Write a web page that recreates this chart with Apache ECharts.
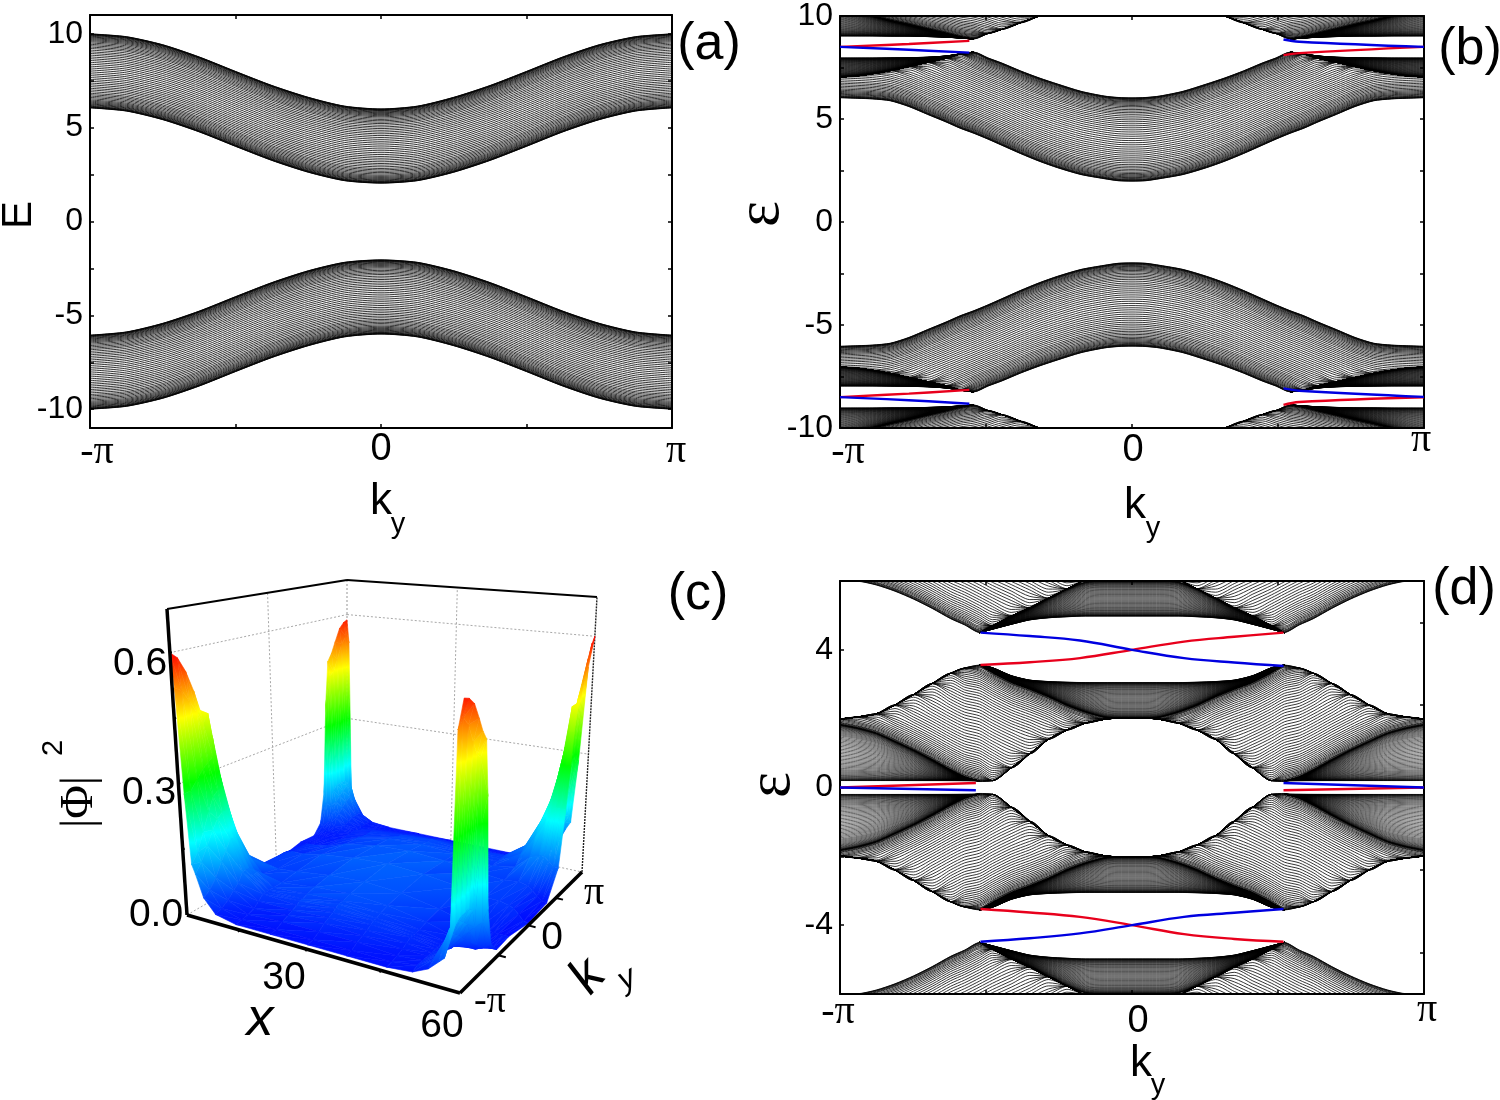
<!DOCTYPE html>
<html><head><meta charset="utf-8"><style>html,body{margin:0;background:#fff}#c{width:1500px;height:1100px}</style>
<script src="https://cdn.jsdelivr.net/npm/echarts@6/dist/echarts.min.js"></script></head>
<body><div id="c"></div><script>
const PI=Math.PI;
// Fractional positions of the hatch lines inside a band (estimated from line spacing in the picture).
// The individual lines are NOT read one by one: each is placed between band edges.
const lineLevels=[.001,.003,.006,.011,.017,.023,.033,.043,.053,.065,.078,.092,.107,.124,.142,.160,.179,.198,.220,.243,.265,.288,.312,.336,.360,.385,.410,.436,.461,.487,.513,.539,.564,.590,.615,.640,.664,.688,.712,.735,.757,.780,.802,.821,.840,.858,.876,.893,.908,.922,.935,.947,.957,.967,.977,.983,.989,.994,.997,.999];

// Panel (a): band edges, half range ky=-pi..0
const kyA=[-3.1416,-2.75,-2.356,-1.963,-1.571,-1.178,-.785,-.393,0];
const aHi=[10,9.85,9.42,8.77,8,7.25,6.62,6.15,6];
const aLo=[6.05,5.88,5.42,4.77,4,3.25,2.62,2.17,2.04];

// Panel (b): band edges, half range
const kyB=[-3.1416,-2.95,-2.79,-2.6,-2.4,-2.2,-2,-1.85,-1.7,-1.55,-1.4,-1.2,-1,-.8,-.55,-.3,-.15,0];
const bMainLo=[6.03,6,5.97,5.88,5.6,5.22,4.85,4.55,4.3,4.02,3.72,3.32,2.95,2.63,2.3,2.1,2,1.98];
const bMainHi=[10,9.95,9.88,9.72,9.47,9.15,8.8,8.55,8.25,7.97,7.72,7.34,7,6.7,6.35,6.12,6.05,6.03];
const bMainCeil=[7.04,7.1,7.2,7.35,7.55,7.75,7.95,8.15,8.25,7.97,7.72,7.34,7,6.7,6.35,6.12,6.05,6.03];
const bDenseHi=[7.96,7.96,7.96,7.97,7.98,8,8.06,8.16,8.25];
const bWedgeLo=[9.03,9.03,9.03,9.02,9.02,9,8.97,8.93,8.88];
const bWedgeHi=[10.35,10.2,10,9.78,9.58,9.36,9.15,8.98,8.88];
const bTopFloor=[10.35,10.2,10,9.78,9.58,9.36,9.15,8.98,8.88,9.15,9.35,9.67,10,10.4,10.9,11.3,11.5,11.6];
const bTopLo=[10.35,10.2,10,9.78,9.58,9.36,9.15,8.98,8.88,8.7,8.5,8.3,8.1,7.95,7.75,7.6,7.55,7.5];
const bTopHi=[14.35,14.2,14,13.78,13.58,13.36,13.15,12.98,12.88,12.7,12.5,12.3,12.1,11.95,11.75,11.6,11.55,11.5];
const bEdgeLeftKy=[-3.1416,-2.4,-1.75], bEdgeRightKy=[1.63,1.8,3.1416];
const bRedUpLeft=[8.5,8.64,8.79], bBlueUpLeft=[8.5,8.36,8.22];
const bBlueUpRight=[8.86,8.75,8.5], bRedUpRight=[8.1,8.2,8.5];
const bRedDownLeft=[-8.5,-8.33,-8.15], bBlueDownLeft=[-8.5,-8.65,-8.82];
const bBlueDownRight=[-8.08,-8.19,-8.49], bRedDownRight=[-8.88,-8.74,-8.51];

// Panel (d): band edges, half range
const kyD=[-3.1416,-2.95,-2.75,-2.55,-2.35,-2.15,-1.95,-1.8,-1.64,-1.5,-1.3,-1.1,-.9,-.7,-.5,-.3,-.15,0];
const dTopFloor=[6,5.99,5.88,5.7,5.47,5.2,4.9,4.72,4.5,4.7,4.98,5.22,5.5,5.77,6.05,6.4,6.6,6.7];
const dTopLo=[6,5.99,5.88,5.7,5.47,5.2,4.9,4.72,4.5,4.3,4.05,3.8,3.55,3.3,3.1,2.95,2.85,2.8];
const dTopHi=[9.6,9.59,9.48,9.3,9.07,8.8,8.5,8.32,8.1,7.9,7.65,7.4,7.15,6.9,6.7,6.55,6.45,6.4];
const dTopDenseLo=[4.5,4.6,4.74,4.87,4.93,4.96,4.98,4.98,4.98,4.98];
const dTopDenseHi=[4.5,4.7,4.98,5.22,5.5,5.77,5.97,6,6,6];
const dMidLo=[1.82,1.72,1.57,1.33,1.08,.8,.5,.3,.17,-.05,-.3,-.52,-.72,-.92,-1.1,-1.25,-1.28,-1.3];
const dMidHi=[5.17,5.07,4.92,4.68,4.43,4.15,3.85,3.65,3.56,3.35,3.07,2.87,2.65,2.4,2.2,2.05,2.02,2.02];
const dMidCeil=[1.99,2.05,2.14,2.4,2.7,3.02,3.32,3.47,3.56,3.35,3.07,2.87,2.65,2.4,2.2,2.05,2.02,2.02];
const dMidFloor=[1.82,1.72,1.57,1.33,1.08,.8,.5,.3,.17,.2,.57,.98,1.4,1.67,1.87,1.98,2.02,2.02];
const dLowDenseLo=[.2,.2,.2,.2,.2,.2,.2,.2,.2];
const dLowDenseHi=[1.82,1.72,1.57,1.33,1.08,.8,.5,.3,.19];
const dCrossLo=[3.56,3.35,3.07,2.87,2.65,2.4,2.2,2.05,2.02,2.02];
const dCrossHi=[3.56,3.48,3.25,3.12,3.08,3.06,3.05,3.05,3.05,3.05];
const dEdgeKy=[-1.63,-1.1,-.56,0,.56,1.1,1.63];
const dRedUp=[3.56,3.64,3.76,4,4.24,4.38,4.5], dBlueUp=[4.5,4.4,4.27,4,3.76,3.63,3.53];
const dRedDown=[-3.53,-3.63,-3.76,-4,-4.26,-4.4,-4.48], dBlueDown=[-4.48,-4.38,-4.24,-4,-3.76,-3.64,-3.53];
const dZeroLeftKy=[-3.1416,-1.68], dZeroRightKy=[1.63,3.1416];
const dRedZeroLeft=[0,.13], dBlueZeroLeft=[0,-.08], dRedZeroRight=[-.08,0], dBlueZeroRight=[.13,0];

// Panel (c): |Phi|^2 table, estimated from the surface silhouette. Rows: ky/pi. Columns: x.
const surfX=[0,1,2,3,4,6,9,14,22,30,38,46,51,54,56,57,58,59,60];
const surfKy=[-1,-.957,-.90,-.84,-.79,-.74,-.706,-.67,-.616,-.522,-.33,0];
const surfRows=[
[.60,.52,.28,.12,.10,.05,.02,.01,.01,.01,.01,.01,.015,.03,.05,.06,.10,.52,.585],
[.585,.51,.28,.14,.12,.06,.025,.012,.012,.012,.012,.012,.02,.04,.08,.11,.12,.54,.58],
[.55,.48,.30,.18,.15,.08,.035,.015,.02,.02,.02,.015,.02,.04,.09,.12,.13,.52,.565],
[.50,.45,.32,.22,.18,.11,.05,.02,.025,.03,.025,.02,.02,.04,.08,.11,.13,.48,.53],
[.45,.42,.33,.25,.20,.13,.06,.03,.03,.035,.03,.025,.02,.035,.07,.10,.13,.45,.50],
[.43,.44,.34,.26,.21,.15,.08,.04,.035,.04,.035,.03,.02,.03,.06,.09,.12,.44,.48],
[.38,.38,.32,.26,.21,.15,.08,.04,.04,.045,.04,.03,.02,.03,.05,.07,.08,.30,.36],
[.30,.30,.28,.24,.20,.14,.08,.04,.04,.05,.04,.03,.02,.025,.03,.04,.04,.09,.12],
[.20,.20,.20,.19,.16,.12,.07,.04,.045,.05,.045,.03,.02,.02,.02,.02,.025,.03,.04],
[.07,.07,.08,.09,.09,.08,.05,.04,.05,.055,.05,.035,.02,.018,.015,.015,.015,.015,.015],
[.01,.012,.02,.03,.04,.045,.04,.045,.055,.06,.055,.04,.025,.02,.018,.018,.018,.018,.018],
[.005,.008,.02,.03,.035,.04,.04,.05,.06,.065,.06,.05,.04,.04,.035,.03,.02,.008,.005]];
const colorAnchors=[[0,[0,0,255]],[.17,[0,255,255]],[.30,[0,255,0]],[.45,[255,255,0]],[.60,[255,0,0]]];

// Tick labels
const kyTicks=[-PI,0,PI], kyTickText=['-π','0','π'];
const kyMinor=[-PI,-PI/2,0,PI/2,PI];
const aLabels=[10,5,0,-5,-10], aTicks=[10,7.5,5,2.5,0,-2.5,-5,-7.5,-10];
const bLabels=[10,5,0,-5,-10], bTicks=[10,7.5,5,2.5,0,-2.5,-5,-7.5,-10];
const dLabels=[4,0,-4], dTicks=[4,2,0,-2,-4], dRightTicks=[2,1,0,-1,-2];

const mir=a=>a.concat(a.slice(0,-1).reverse());
const mirK=a=>a.concat(a.slice(0,-1).reverse().map(v=>-v));
const neg=a=>a&&a.map(v=>-v);

const NUM='"Liberation Sans",Arial,sans-serif', SYM='"Liberation Serif",serif';
const series=[], xAxes=[], yAxes=[], grids=[];

function panel(i,box,ymin,ymax,labels,ticks,xOff,rightCfg){
  grids.push({left:box[0],top:box[1],width:box[2],height:box[3],show:false});
  const axLine={lineStyle:{color:'#000',width:2}};
  const rich={};
  xOff.slice(0,3).forEach((o,j)=>{rich['l'+j]={fontFamily:j==1?NUM:SYM,fontSize:j==1?38:40,color:'#000',
    padding:[o[1],o[0]<0?-2*o[0]:0,0,o[0]>0?2*o[0]:0]};});
  xAxes.push({gridIndex:i,type:'value',min:-PI,max:PI,position:'bottom',axisLine:{onZero:false,...axLine},splitLine:{show:false},
    axisTick:{inside:true,length:4,customValues:kyMinor,lineStyle:{color:'#000',width:1.5}},
    axisLabel:{customValues:kyTicks,margin:xOff[3],formatter:v=>{const j=kyTicks.findIndex(t=>Math.abs(t-v)<1e-6);return `{l${j}|${kyTickText[j]}}`;},rich}});
  xAxes.push({gridIndex:i,type:'value',min:-PI,max:PI,position:'top',axisLine:{onZero:false,...axLine},splitLine:{show:false},
    axisTick:{inside:true,length:4,customValues:kyMinor,lineStyle:{color:'#000',width:1.5}},axisLabel:{show:false}});
  yAxes.push({gridIndex:i,type:'value',min:ymin,max:ymax,position:'left',axisLine:{onZero:false,...axLine},splitLine:{show:false},
    axisTick:{inside:true,length:4,customValues:ticks,lineStyle:{color:'#000',width:1.5}},
    axisLabel:{customValues:labels,margin:7,fontFamily:NUM,fontSize:32,color:'#000'}});
  yAxes.push({gridIndex:i,type:'value',min:rightCfg[0],max:rightCfg[1],position:'right',axisLine:{onZero:false,...axLine},splitLine:{show:false},
    axisTick:{inside:true,length:4,customValues:rightCfg[2],lineStyle:{color:'#000',width:1.5}},axisLabel:{show:false}});
}
// One sheet of lines between two read edges, optionally held inside floor/ceil edges
function sheet(p,ky,lo,hi,opt={}){
  const d=[];
  lineLevels.forEach(f=>{
    ky.forEach((k,i)=>{
      let y=lo[i]+(hi[i]-lo[i])*f;
      if(opt.ceil) y=Math.min(y,opt.ceil[i]);
      if(opt.floor) y=Math.max(y,opt.floor[i]);
      d.push([k,y]);
    });
    d.push([NaN,NaN]);
  });
  series.push({type:'line',xAxisIndex:p*2,yAxisIndex:p*2,data:d,showSymbol:false,symbol:'none',silent:true,smooth:opt.smooth===undefined?.25:opt.smooth,
    animation:false,connectNulls:false,lineStyle:{color:'#000',width:opt.w||.8},z:2});
}
function edge(p,ky,ys,color){
  series.push({type:'line',xAxisIndex:p*2,yAxisIndex:p*2,data:ky.map((k,i)=>[k,ys[i]]),showSymbol:false,symbol:'none',silent:true,smooth:.4,animation:false,
    lineStyle:{color,width:2.4},z:3});
}
const RED='#e8001c', BLUE='#0000e0';

panel(0,[90,15,582,413],-11,11,aLabels,aTicks,[[7,1],[0,0],[4,0],3],[-11,11,aTicks]);
panel(1,[840,15,584,413],-10,10,bLabels,bTicks,[[8,12],[1,12],[-3,0],-8],[-10,10,bTicks]);
panel(2,[840,581,584,413],-6,6,dLabels,dTicks,[[-2,2],[6,13],[3,0],-4],[-2.5,2.5,dRightTicks]);

// (a)
const ka=mirK(kyA);
[1,-1].forEach(s=>{const m=a=>s>0?mir(a):neg(mir(a));
  sheet(0,ka,m(aLo),m(aHi));});

// (b)
const kb=mirK(kyB), kbL=kyB.slice(0,9), kbR=kbL.map(v=>-v);
[1,-1].forEach(s=>{
  const m=a=>s>0?mir(a):neg(mir(a)), one=a=>s>0?a:neg(a);
  const mainCeil=m(bMainCeil);
  sheet(1,kb,m(bMainLo),m(bMainHi),s>0?{ceil:mainCeil}:{floor:mainCeil});
  [kbL,kbR].forEach(k=>{
    sheet(1,k,one(bMainCeil.slice(0,9)),one(bDenseHi),{w:.6});
    sheet(1,k,one(bWedgeLo),one(bWedgeHi),{w:.6});
  });
  const f=m(bTopFloor);
  sheet(1,kb,m(bTopLo),m(bTopHi),s>0?{floor:f}:{ceil:f});
});
edge(1,bEdgeLeftKy,bRedUpLeft,RED);edge(1,bEdgeLeftKy,bBlueUpLeft,BLUE);
edge(1,bEdgeRightKy,bRedUpRight,RED);edge(1,bEdgeRightKy,bBlueUpRight,BLUE);
edge(1,bEdgeLeftKy,bRedDownLeft,RED);edge(1,bEdgeLeftKy,bBlueDownLeft,BLUE);
edge(1,bEdgeRightKy,bRedDownRight,RED);edge(1,bEdgeRightKy,bBlueDownRight,BLUE);

// (d)
const kd=mirK(kyD), kdL=kyD.slice(0,9), kdR=kdL.map(v=>-v), kdC=mirK(kyD.slice(8));
[1,-1].forEach(s=>{
  const m=a=>s>0?mir(a):neg(mir(a)), one=a=>s>0?a:neg(a);
  const hold=(fl,ce)=>s>0?{floor:fl,ceil:ce}:{floor:ce,ceil:fl};
  const tf=m(dTopFloor);
  sheet(2,kd,m(dTopLo),m(dTopHi),s>0?{floor:tf}:{ceil:tf});
  sheet(2,kdC,m(dTopDenseLo),m(dTopDenseHi),{w:.6});
  sheet(2,kd,m(dMidLo),m(dMidHi),hold(m(dMidFloor),m(dMidCeil)));
  [kdL,kdR].forEach(k=>sheet(2,k,one(dLowDenseLo),one(dLowDenseHi),{w:.6}));
  sheet(2,kdC,m(dCrossLo),m(dCrossHi),{w:.6});
});
edge(2,dEdgeKy,dRedUp,RED);edge(2,dEdgeKy,dBlueUp,BLUE);
edge(2,dEdgeKy,dRedDown,RED);edge(2,dEdgeKy,dBlueDown,BLUE);
edge(2,dZeroLeftKy,dRedZeroLeft,RED);edge(2,dZeroLeftKy,dBlueZeroLeft,BLUE);
edge(2,dZeroRightKy,dRedZeroRight,RED);edge(2,dZeroRightKy,dBlueZeroRight,BLUE);

// (c): oblique perspective frame for the 3D box (x 0..60, ky -pi..pi, z 0..0.7)
grids.push({left:0,top:0,width:1500,height:1100,show:false});
xAxes.push({gridIndex:3,type:'value',min:0,max:1500,show:false});
yAxes.push({gridIndex:3,type:'value',min:0,max:1100,inverse:true,show:false});
const G3=xAxes.length-1, GY3=yAxes.length-1;
const floorFrame={A:[187,915],B:[460,993],C:[582,872],D:[347,822]};
const topFrame={A:[167,609],B:[465,640],C:[597,597],D:[347,580]};
const ZMAX=.7;
function proj(x,ky,z){
  const u0=x/60,t0=(ky+1)/2;
  const u=u0<0?u0:Math.pow(u0,1.18), t=t0<0?t0:Math.pow(t0,.84), w=z/ZMAX;
  const bi=c=>[0,1].map(n=>c.A[n]*(1-u)*(1-t)+c.B[n]*u*(1-t)+c.C[n]*u*t+c.D[n]*(1-u)*t);
  const a=bi(floorFrame),b=bi(topFrame);
  return [a[0]+(b[0]-a[0])*w,a[1]+(b[1]-a[1])*w];
}
function seg(pts,color,width,type,z){
  series.push({type:'line',xAxisIndex:G3,yAxisIndex:GY3,data:pts.map(p=>proj(p[0],p[1],p[2])),showSymbol:false,symbol:'none',silent:true,animation:false,
    lineStyle:{color,width,type:type||'solid'},z:z||1});
}
const GR='#a8a8a8';
[[.3],[.6]].forEach(([z])=>{seg([[0,-1,z],[0,1,z]],GR,1,[2,2]);seg([[0,1,z],[60,1,z]],GR,1,[2,2]);});
seg([[0,0,0],[0,0,ZMAX]],GR,1,[2,2]);seg([[30,1,0],[30,1,ZMAX]],GR,1,[2,2]);
seg([[0,1,0],[0,1,ZMAX]],GR,1.2,[2,2]);
seg([[0,-1,0],[0,1,0]],GR,1,[2,2]);seg([[0,1,0],[60,1,0]],GR,1,[2,2]);
seg([[0,-1,ZMAX],[0,1,ZMAX]],'#000',1.8);seg([[0,1,ZMAX],[60,1,ZMAX]],'#000',1.8);
seg([[60,1,0],[60,1,ZMAX]],'#222',1.4,[2,1]);

// surface triangles, far to near
const colorAt=z=>{const A=colorAnchors;if(z<=A[0][0])return A[0][1];for(let i=1;i<A.length;i++){if(z<=A[i][0]){const f=(z-A[i-1][0])/(A[i][0]-A[i-1][0]);return A[i-1][1].map((c,n)=>Math.round(c+(A[i][1][n]-c)*f));}}return A[A.length-1][1];};
const css=c=>`rgb(${c[0]},${c[1]},${c[2]})`;
function fillFor(zs){
  const a=Math.min(...zs),b=Math.max(...zs);
  if(b-a<.002)return css(colorAt(a));
  const st=[{offset:0,color:css(colorAt(a))}];
  colorAnchors.forEach(c=>{if(c[0]>a&&c[0]<b)st.push({offset:(c[0]-a)/(b-a),color:css(c[1])});});
  st.push({offset:1,color:css(colorAt(b))});
  return new echarts.graphic.LinearGradient(0,1,0,0,st);
}
const fullKy=surfKy.concat(surfKy.slice(0,-1).reverse().map(v=>-v));
const fullRows=surfRows.concat(surfRows.slice(0,-1).reverse().map(r=>r.slice().reverse()));
const tris=[];
for(let r=fullKy.length-2;r>=0;r--){
  for(let c=0;c<surfX.length-1;c++){
    const P=(rr,cc)=>({p:proj(surfX[cc],fullKy[rr],fullRows[rr][cc]),z:fullRows[rr][cc]});
    const a=P(r+1,c),b=P(r+1,c+1),cc=P(r,c+1),d=P(r,c);
    [[a,b,d],[b,cc,d]].forEach(t=>tris.push({pts:t.map(o=>o.p),fill:fillFor(t.map(o=>o.z))}));
  }
}
series.push({type:'custom',xAxisIndex:G3,yAxisIndex:GY3,clip:false,silent:true,animation:false,progressive:0,z:2,
  data:tris.map(t=>t.pts[0]),encode:{x:0,y:1},
  renderItem:(params,api)=>{const t=tris[params.dataIndex];
    return {type:'polygon',shape:{points:t.pts.map(p=>api.coord(p))},style:{fill:t.fill,stroke:t.fill,lineWidth:.6}};}});

seg([[0,-1,0],[0,-1,ZMAX]],'#000',3.5,null,4);
seg([[0,-1,0],[60,-1,0]],'#000',3.5,null,4);
seg([[60,-1,0],[60,1,0]],'#000',3.5,null,4);
[15,30,45].forEach(x=>seg([[x,-1,0],[x,-1.03,0]],'#000',2,null,4));
[-.5,0,.5].forEach(k=>seg([[60,k,0],[61.5,k,0]],'#000',2,null,4));
[.15,.3,.45,.6].forEach(z=>seg([[0,-1,z],[0,-.99,z]],'#000',2,null,4));

// Text
const T=(text,x,y,size,o={})=>({type:'text',x,y,rotation:o.rot||0,z:10,style:{text,fontFamily:o.font||NUM,fontSize:size,fontStyle:o.italic?'italic':'normal',fill:'#000',align:o.align||'center',verticalAlign:'middle'}});
const graphic=[
 T('(a)',709,45,52),T('(b)',1470,50,52),T('(c)',698,595,52),T('(d)',1464,590,52),
 T('E',19,215,42,{rot:PI/2}),
 T('ε',762,214,62,{rot:PI/2,font:SYM}),T('ε',773,785,62,{rot:PI/2,font:SYM}),
 T('k',381,502,44),T('y',398,525,29),
 T('k',1135,506,44),T('y',1153,529,29),
 T('k',1141,1064,44),T('y',1158,1086,29),
 T('0.6',140,664,39),T('0.3',149,793,39),T('0.0',156,915,39),
 T('30',284,978,39),T('60',442,1026,39),
 T('-π',490,1002,38,{font:SYM}),T('0',552,938,39),T('π',594,893,40,{font:SYM}),
 T('x',260,1020,54,{italic:true}),
 T('k',588,977,52,{italic:true,rot:.85}),T('y',627,979,32,{italic:true,rot:.5}),
 T('|Φ|',80,802,46,{rot:PI/2,font:SYM}),T('2',54,748,29,{rot:PI/2})
];
const chart=echarts.init(document.getElementById('c'),null,{renderer:'canvas'});
chart.setOption({animation:false,backgroundColor:'#fff',grid:grids,xAxis:xAxes,yAxis:yAxes,series,graphic});
</script></body></html>
